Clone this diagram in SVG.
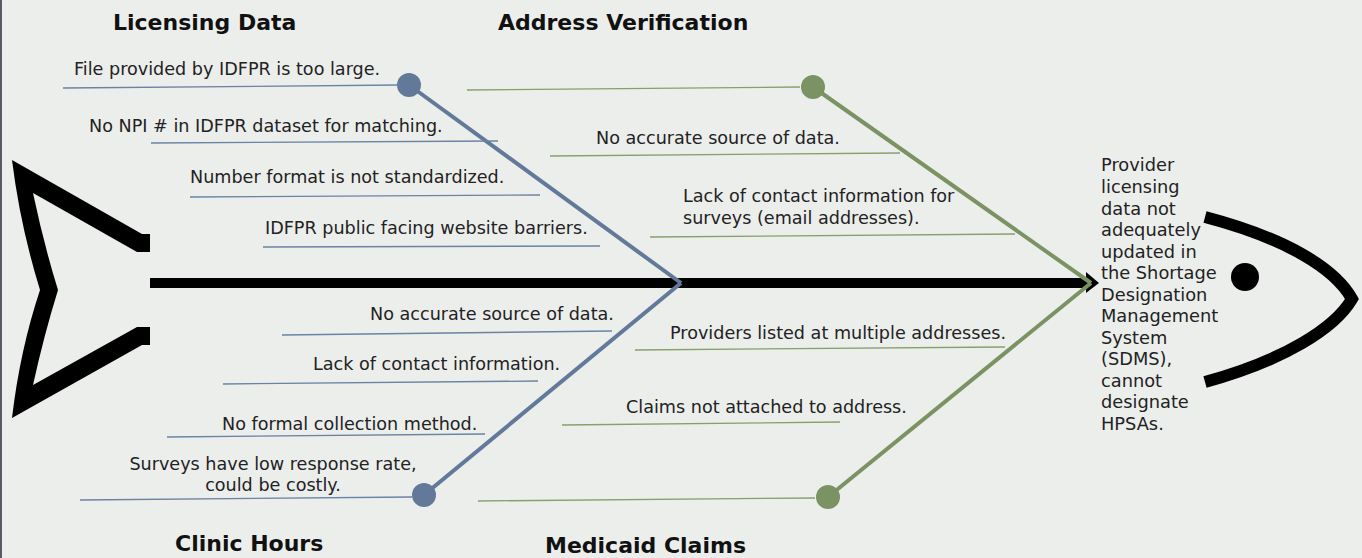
<svg xmlns="http://www.w3.org/2000/svg" width="1362" height="558" viewBox="0 0 1362 558">
<style>
.t{font-family:"DejaVu Sans",Verdana,sans-serif;font-size:17.6px;fill:#222}
.h{font-family:"DejaVu Sans",Verdana,sans-serif;font-size:22px;font-weight:bold;fill:#111}
.b{stroke:#63799a;fill:none}
.g{stroke:#7b9263;fill:none}
.sb{stroke:#6a82a3;stroke-width:1.3;fill:none}
.sg{stroke:#86a06b;stroke-width:1.3;fill:none}
</style>
<rect x="0" y="0" width="1362" height="558" fill="#eceeec"/>
<rect x="0" y="0" width="2" height="558" fill="#5a5a66"/>
<g id="fish">
<path d="M12,160 L142,234 L150,234 L150,252 L137,252 L33,193 Q44,245 58,290 Q44,335 33,385 L137,327 L150,327 L150,345 L142,345 L12,418 Q20,350 40,290 Q20,225 12,160 Z" fill="#000"/>
<path d="M1205,217 C1285,238 1335,268 1352,299 C1335,328 1285,360 1205,382" fill="none" stroke="#000" stroke-width="12"/>
<circle cx="1245" cy="277" r="14" fill="#000"/>
</g>
<g id="connectors">
<line x1="150" y1="283" x2="1088" y2="283" stroke="#000" stroke-width="10"/>
<polygon points="1086,272 1099,283 1086,293" fill="#000"/>
<line class="b" x1="409" y1="85" x2="681" y2="283" stroke-width="4"/>
<line class="b" x1="424" y1="495" x2="681" y2="283" stroke-width="4"/>
<line class="g" x1="813" y1="87" x2="1091" y2="283" stroke-width="4"/>
<line class="g" x1="828" y1="497" x2="1091" y2="283" stroke-width="4"/>
</g>
<g id="licensing-data">
<text class="h" x="113" y="30">Licensing  Data</text>
<circle cx="409" cy="85" r="12" fill="#63799a"/>
<line class="sb" x1="63" y1="88" x2="400" y2="85"/>
<text class="t" x="74" y="75">File provided by IDFPR is too large.</text>
<line class="sb" x1="151" y1="143" x2="498" y2="141"/>
<text class="t" x="89" y="132">No NPI # in IDFPR dataset for matching.</text>
<line class="sb" x1="190" y1="197" x2="540" y2="195"/>
<text class="t" x="190" y="183">Number format is not standardized.</text>
<line class="sb" x1="263" y1="247" x2="600" y2="246"/>
<text class="t" x="265" y="234">IDFPR public facing website barriers.</text>
</g>
<g id="clinic-hours">
<text class="h" x="175" y="551">Clinic  Hours</text>
<circle cx="424" cy="495" r="12" fill="#63799a"/>
<line class="sb" x1="282" y1="335" x2="612" y2="331"/>
<text class="t" x="370" y="320">No accurate source of data.</text>
<line class="sb" x1="223" y1="384" x2="538" y2="381"/>
<text class="t" x="313" y="370">Lack of contact information.</text>
<line class="sb" x1="167" y1="437" x2="485" y2="434"/>
<text class="t" x="222" y="430">No formal collection method.</text>
<line class="sb" x1="80" y1="500" x2="412" y2="497"/>
<text class="t" x="273" y="470" text-anchor="middle">Surveys have low response rate,</text>
<text class="t" x="273" y="491" text-anchor="middle">could be costly.</text>
</g>
<g id="address-verification">
<text class="h" x="498" y="30">Address Verification</text>
<circle cx="813" cy="87" r="12" fill="#7b9263"/>
<line class="sg" x1="467" y1="90" x2="800" y2="87"/>
<line class="sg" x1="550" y1="156" x2="900" y2="153"/>
<text class="t" x="596" y="144">No accurate source of data.</text>
<line class="sg" x1="650" y1="237" x2="1015" y2="234"/>
<text class="t" x="683" y="202">Lack of contact information for</text>
<text class="t" x="683" y="224">surveys (email addresses).</text>
</g>
<g id="medicaid-claims">
<text class="h" x="545" y="553">Medicaid  Claims</text>
<circle cx="828" cy="497" r="12" fill="#7b9263"/>
<line class="sg" x1="635" y1="350" x2="1005" y2="347"/>
<text class="t" x="670" y="339">Providers listed at multiple addresses.</text>
<line class="sg" x1="562" y1="425" x2="840" y2="422"/>
<text class="t" x="626" y="413">Claims not attached to address.</text>
<line class="sg" x1="478" y1="501" x2="815" y2="498"/>
</g>
<g id="problem">
<text class="t" style="font-size:17.8px" x="1101">
<tspan x="1101" y="171">Provider</tspan>
<tspan x="1101" y="193">licensing</tspan>
<tspan x="1101" y="215">data not</tspan>
<tspan x="1101" y="236">adequately</tspan>
<tspan x="1101" y="258">updated in</tspan>
<tspan x="1101" y="279">the Shortage</tspan>
<tspan x="1101" y="301">Designation</tspan>
<tspan x="1101" y="322">Management</tspan>
<tspan x="1101" y="344">System</tspan>
<tspan x="1101" y="365">(SDMS),</tspan>
<tspan x="1101" y="387">cannot</tspan>
<tspan x="1101" y="408">designate</tspan>
<tspan x="1101" y="430">HPSAs.</tspan>
</text>
</g>
</svg>
